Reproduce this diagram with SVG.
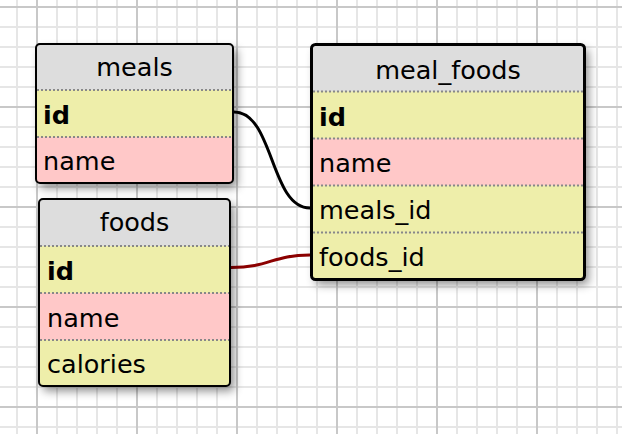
<svg xmlns="http://www.w3.org/2000/svg" width="622" height="434" viewBox="0 0 622 434">
<style>
.tbl{stroke:#000;stroke-width:2}
.hdr{fill:#dddddd}
.pk{fill:#eeeeaa}
.fk{fill:#eeeeaa}
.col{fill:#ffc8c8}
.sep{stroke:#888;stroke-width:2;stroke-dasharray:2 2}
text{font-family:"DejaVu Sans",Verdana,sans-serif;font-size:25.5px;fill:#000}
.title{text-anchor:middle}
.b{font-weight:bold}
</style>
<defs>
<pattern id="minor" x="16" y="6" width="20" height="20" patternUnits="userSpaceOnUse">
<path d="M1 0V20M0 1H20" stroke="#e6e6e6" stroke-width="2" fill="none"/>
</pattern>
<pattern id="major" x="36" y="6" width="100" height="100" patternUnits="userSpaceOnUse">
<path d="M1 0V100M0 1H100" stroke="#c8c8c8" stroke-width="2" fill="none"/>
</pattern>
<filter id="sh" x="-20%" y="-20%" width="150%" height="150%">
<feDropShadow dx="4" dy="5" stdDeviation="5" flood-color="#000" flood-opacity="0.45"/>
</filter>
<clipPath id="cMeals"><rect x="36" y="44" width="197" height="139" rx="4"/></clipPath>
<clipPath id="cFoods"><rect x="39" y="199" width="191" height="187" rx="4"/></clipPath>
<clipPath id="cMF"><rect x="311.5" y="44.5" width="273" height="235" rx="4"/></clipPath>
</defs>
<rect width="622" height="434" fill="#fff"/>
<rect width="622" height="434" fill="url(#minor)"/>
<rect width="622" height="434" fill="url(#major)"/>

<g id="connectors" fill="none" stroke-width="3">
<path d="M234 112 C274 112 270 208 310 208" stroke="#000"/>
<path d="M231 267.5 C270 267.5 272 255 310 255" stroke="#8b0000"/>
</g>

<g id="meals">
<rect x="36" y="44" width="197" height="139" rx="4" fill="#ddd" filter="url(#sh)"/>
<g clip-path="url(#cMeals)">
<rect class="hdr" x="36" y="44" width="197" height="46"/>
<rect class="pk" x="36" y="90" width="197" height="47"/>
<rect class="col" x="36" y="137" width="197" height="46"/>
</g>
<line class="sep" x1="37" y1="90" x2="232" y2="90"/>
<line class="sep" x1="37" y1="137" x2="232" y2="137"/>
<rect class="tbl" x="36" y="44" width="197" height="139" rx="4" fill="none"/>
<text class="title" x="134.5" y="76">meals</text>
<text class="b" x="43" y="124">id</text>
<text x="43" y="170">name</text>
</g>

<g id="foods">
<rect x="39" y="199" width="191" height="187" rx="4" fill="#ddd" filter="url(#sh)"/>
<g clip-path="url(#cFoods)">
<rect class="hdr" x="39" y="199" width="191" height="47"/>
<rect class="pk" x="39" y="246" width="191" height="47"/>
<rect class="col" x="39" y="293" width="191" height="47"/>
<rect class="fk" x="39" y="340" width="191" height="46"/>
</g>
<line class="sep" x1="40" y1="246" x2="229" y2="246"/>
<line class="sep" x1="40" y1="293" x2="229" y2="293"/>
<line class="sep" x1="40" y1="340" x2="229" y2="340"/>
<rect class="tbl" x="39" y="199" width="191" height="187" rx="4" fill="none"/>
<text class="title" x="134.5" y="231">foods</text>
<text class="b" x="47" y="280">id</text>
<text x="47" y="327">name</text>
<text x="47" y="373">calories</text>
</g>

<g id="meal_foods">
<rect x="311.5" y="44.5" width="273" height="235" rx="4" fill="#ddd" filter="url(#sh)"/>
<g clip-path="url(#cMF)">
<rect class="hdr" x="311.5" y="44.5" width="273" height="47"/>
<rect class="pk" x="311.5" y="91.5" width="273" height="47"/>
<rect class="col" x="311.5" y="138.5" width="273" height="47"/>
<rect class="fk" x="311.5" y="185.5" width="273" height="47"/>
<rect class="fk" x="311.5" y="232.5" width="273" height="47"/>
</g>
<line class="sep" x1="313" y1="91.5" x2="583" y2="91.5"/>
<line class="sep" x1="313" y1="138.5" x2="583" y2="138.5"/>
<line class="sep" x1="313" y1="185.5" x2="583" y2="185.5"/>
<line class="sep" x1="313" y1="232.5" x2="583" y2="232.5"/>
<rect x="311.5" y="44.5" width="273" height="235" rx="4" fill="none" stroke="#000" stroke-width="3"/>
<text class="title" x="448" y="79">meal_foods</text>
<text class="b" x="319" y="125.5">id</text>
<text x="319" y="172">name</text>
<text x="319" y="219">meals_id</text>
<text x="319" y="266">foods_id</text>
</g>
</svg>
